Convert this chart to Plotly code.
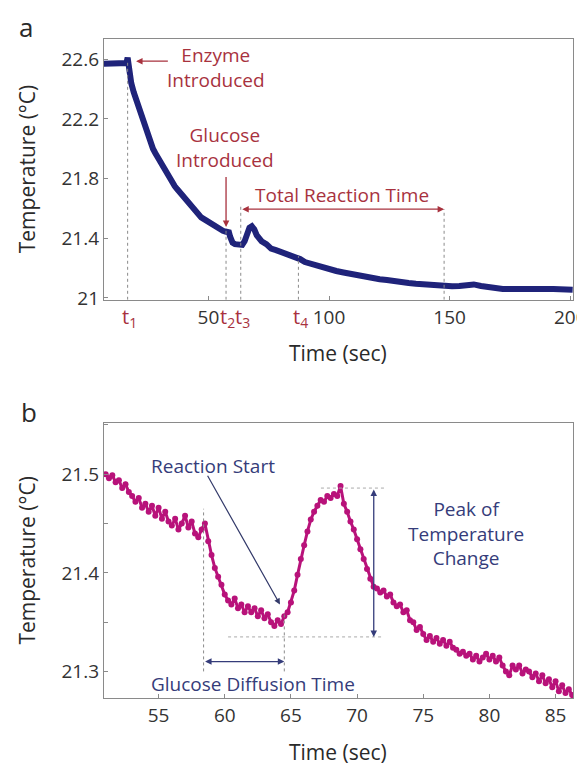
import plotly.graph_objects as go

# ---------------- Panel a data ----------------
time_a = [6.6, 8, 10, 12, 14, 16, 16.5, 17, 17.5, 18, 19, 20, 21, 22, 23, 24, 25, 26, 27, 28, 29, 30,
          31, 32, 33, 34, 35, 36, 37, 38, 39, 40, 41, 42, 43, 44, 45, 46, 47, 48, 49, 50, 51, 52, 53,
          54, 55, 56, 57, 58, 58.5, 59, 60, 61, 62, 63, 64, 65, 66, 67, 68, 69, 70, 71, 72, 74, 76,
          78, 80, 82, 84, 86, 88, 90, 92, 95, 98, 100, 103, 106, 109, 112, 115, 118, 121, 124, 127,
          130, 133, 136, 139, 142, 145, 148, 151, 154, 157, 160, 163, 166, 169, 172, 175, 178, 181,
          184, 187, 190, 193, 196, 199, 201]
temp_a = [22.57, 22.57, 22.575, 22.57, 22.575, 22.575, 22.61, 22.52, 22.46, 22.44, 22.38, 22.33,
          22.27, 22.22, 22.17, 22.12, 22.08, 22.04, 22.0, 21.97, 21.94, 21.91, 21.88, 21.85, 21.83,
          21.80, 21.77, 21.75, 21.73, 21.71, 21.69, 21.67, 21.65, 21.63, 21.61, 21.59, 21.57, 21.56,
          21.54, 21.53, 21.52, 21.50, 21.49, 21.48, 21.47, 21.465, 21.46, 21.45, 21.445, 21.44,
          21.44, 21.41, 21.37, 21.36, 21.355, 21.35, 21.355, 21.38, 21.43, 21.47, 21.48, 21.46,
          21.42, 21.39, 21.38, 21.36, 21.33, 21.32, 21.31, 21.30, 21.29, 21.28, 21.26, 21.24, 21.23,
          21.21, 21.20, 21.19, 21.18, 21.17, 21.16, 21.145, 21.14, 21.13, 21.125, 21.12, 21.11,
          21.105, 21.10, 21.095, 21.09, 21.085, 21.08, 21.08, 21.078, 21.08, 21.085, 21.09, 21.08,
          21.07, 21.065, 21.06, 21.06, 21.065, 21.06, 21.06, 21.065, 21.06, 21.06, 21.055, 21.06,
          21.055]

x_ticks_a = [50, 100, 150, 200]
y_ticks_a = [21.0, 21.4, 21.8, 22.2, 22.6]
y_ticklabels_a = ["21", "21.4", "21.8", "22.2", "22.6"]
t_markers = [16.5, 57.3, 63.4, 87.3]
t_labels = ["t<sub>1</sub>", "t<sub>2</sub>", "t<sub>3</sub>", "t<sub>4</sub>"]
t_line_tops = [22.58, 21.456, 21.62, 21.28]
reaction_end = 147.7

# ---------------- Panel b data ----------------
time_b = [51 + 0.25 * i for i in range(142)]
temp_b = [21.500, 21.496, 21.499, 21.492,
          21.494, 21.486, 21.490, 21.482,
          21.478, 21.472, 21.476, 21.466,
          21.470, 21.462, 21.468, 21.458,
          21.466, 21.455, 21.462, 21.452,
          21.448, 21.455, 21.444, 21.450,
          21.458, 21.446, 21.452, 21.440,
          21.436, 21.444, 21.450, 21.432,
          21.418, 21.405, 21.396, 21.388,
          21.378, 21.372, 21.368, 21.374,
          21.364, 21.368, 21.360, 21.366,
          21.360, 21.364, 21.356, 21.362,
          21.354, 21.358, 21.350, 21.346,
          21.352, 21.348, 21.356, 21.360,
          21.370, 21.382, 21.398, 21.414,
          21.428, 21.442, 21.454, 21.462,
          21.468, 21.474, 21.472, 21.478,
          21.476, 21.480, 21.478, 21.488,
          21.470, 21.462, 21.452, 21.444,
          21.434, 21.424, 21.414, 21.404,
          21.394, 21.386, 21.384, 21.380,
          21.382, 21.376, 21.378, 21.370,
          21.366, 21.368, 21.360, 21.362,
          21.352, 21.350, 21.342, 21.345,
          21.338, 21.332, 21.336, 21.330,
          21.334, 21.328, 21.332, 21.326,
          21.330, 21.324, 21.322, 21.318,
          21.320, 21.316, 21.318, 21.312,
          21.316, 21.310, 21.314, 21.318,
          21.312, 21.316, 21.310, 21.314,
          21.306, 21.300, 21.296, 21.306,
          21.302, 21.306, 21.298, 21.302,
          21.300, 21.294, 21.298, 21.290,
          21.296, 21.288, 21.292, 21.284,
          21.290, 21.280, 21.286, 21.278,
          21.282, 21.276]

x_ticks_b = [55, 60, 65, 70, 75, 80, 85]
y_ticks_b = [21.3, 21.4, 21.5]
glucose_t = 58.4
reaction_t = 64.5
peak_t = 71.26
peak_val = 21.486
base_val = 21.335

FONT = "Open Sans"
NAVY = "#1f237a"
MAGENTA = "#b8127a"
RED = "#a8323e"
BLUE = "#353c7a"
GRAY = "#8a8a8a"
TXT = "#2a2a2a"

fig = go.Figure()
fig.add_trace(go.Scatter(x=time_a, y=temp_a, mode="lines", line=dict(color=NAVY, width=6),
                         xaxis="x", yaxis="y", showlegend=False))
fig.add_trace(go.Scatter(x=time_b, y=temp_b, mode="lines+markers", line=dict(color=MAGENTA, width=3),
                         marker=dict(color=MAGENTA, size=6), xaxis="x2", yaxis="y2", showlegend=False))

axis_common = dict(showline=True, linecolor=GRAY, linewidth=1, mirror=True, ticks="inside",
                   ticklen=4, tickcolor=GRAY, showgrid=False, zeroline=False,
                   ticklabeloverflow="allow",
                   tickfont=dict(family=FONT, size=19, color="#333333"))

W, H = 585, 773
def px(xp):
    return xp / W
def py(yp):
    return 1 - yp / H

fig.update_layout(
    width=W, height=H, margin=dict(l=0, r=0, t=0, b=0),
    plot_bgcolor="white", paper_bgcolor="white",
    xaxis=dict(domain=[px(98), px(578)], range=[6.63, 201.2], anchor="y",
               tickvals=x_ticks_a, ticktext=["50", "100", "150", "200"], **axis_common),
    yaxis=dict(domain=[py(296), py(31)], range=[20.987, 22.739], anchor="x",
               tickvals=y_ticks_a, ticktext=y_ticklabels_a, **axis_common),
    xaxis2=dict(domain=[px(98), px(578)], range=[50.86, 86.33], anchor="y2",
                tickvals=x_ticks_b, **axis_common),
    yaxis2=dict(domain=[py(700), py(421)], range=[21.273, 21.552], anchor="x2",
                tickvals=y_ticks_b, minor=dict(dtick=0.05, ticks="inside", ticklen=4, tickcolor=GRAY),
                **axis_common),
)

shapes = []
ann = []

def text_ann(x, y, text, color, size=19, xref="x", yref="y", **kw):
    d = dict(x=x, y=y, xref=xref, yref=yref, text=text, showarrow=False,
             xanchor="center", yanchor="middle", align="center",
             font=dict(family=FONT, size=size, color=color))
    d.update(kw)
    return d

def arrow_ann(x, y, ax, ay, color, xref="x", yref="y", both=False, width=1.3):
    d = dict(x=x, y=y, ax=ax, ay=ay, xref=xref, yref=yref, axref=xref, ayref=yref, text="",
             showarrow=True, arrowhead=2, arrowsize=1, arrowwidth=width, arrowcolor=color)
    if both:
        d.update(startarrowhead=2, arrowside="end+start", startarrowsize=1)
    return d

# ---- panel a dotted lines ----
for t, top in zip(t_markers, t_line_tops):
    shapes.append(dict(type="line", xref="x", yref="y", x0=t, x1=t, y0=20.987, y1=top,
                       line=dict(color=GRAY, width=1, dash="dot")))
shapes.append(dict(type="line", xref="x", yref="y", x0=reaction_end, x1=reaction_end, y0=20.987,
                   y1=21.595, line=dict(color=GRAY, width=1, dash="dot")))

# t labels
for t, lab in zip(t_markers, t_labels):
    ann.append(text_ann(t + 0.8, py(314), lab, RED, size=20, yref="paper"))

ann.append(text_ann(53.2, 22.547, "Enzyme<br>Introduced", RED))
ann.append(arrow_ann(20.0, 22.587, 33.8, 22.587, RED))
ann.append(text_ann(56.9, 22.008, "Glucose<br>Introduced", RED))
ann.append(arrow_ann(57.3, 21.476, 57.3, 21.82, RED))
ann.append(text_ann(105.5, 21.688, "Total Reaction Time", RED))
ann.append(arrow_ann(reaction_end, 21.595, t_markers[2], 21.595, RED, both=True))

# ---- panel b ----
shapes.append(dict(type="line", xref="x2", yref="y2", x0=glucose_t, x1=glucose_t, y0=21.30, y1=21.465,
                   line=dict(color=GRAY, width=1, dash="dot")))
shapes.append(dict(type="line", xref="x2", yref="y2", x0=reaction_t, x1=reaction_t, y0=21.30, y1=21.358,
                   line=dict(color=GRAY, width=1, dash="dot")))
shapes.append(dict(type="line", xref="x2", yref="y2", x0=60.25, x1=71.92, y0=base_val, y1=base_val,
                   line=dict(color="#aaaaaa", width=1, dash="dot")))
shapes.append(dict(type="line", xref="x2", yref="y2", x0=67.27, x1=72.07, y0=peak_val, y1=peak_val,
                   line=dict(color="#aaaaaa", width=1, dash="dot")))

ann.append(arrow_ann(reaction_t, 21.31, glucose_t, 21.31, BLUE, xref="x2", yref="y2", both=True))
ann.append(text_ann(62.17, 21.287, "Glucose Diffusion Time", BLUE, xref="x2", yref="y2"))
ann.append(arrow_ann(peak_t, base_val, peak_t, peak_val, BLUE, xref="x2", yref="y2", both=True))
ann.append(text_ann(78.2, 21.44, "Peak of<br>Temperature<br>Change", BLUE, xref="x2", yref="y2"))
ann.append(text_ann(59.14, 21.508, "Reaction Start", BLUE, xref="x2", yref="y2"))
ann.append(arrow_ann(64.17, 21.368, 58.64, 21.50, "#333a6a", xref="x2", yref="y2", width=1.2))

# titles and panel letters
for yc in (py(350), py(755)):
    ann.append(text_ann(px(337), yc, "Time (sec)", TXT, size=21, xref="paper", yref="paper"))
for yc in (py(163), py(560)):
    ann.append(text_ann(px(19), yc, "Temperature (°C)", TXT, size=21, xref="paper", yref="paper",
                        textangle=-90))
ann.append(text_ann(px(18), py(19), "a", TXT, size=26, xref="paper", yref="paper"))
ann.append(text_ann(px(21), py(410), "b", TXT, size=26, xref="paper", yref="paper"))

fig.update_layout(shapes=shapes, annotations=ann)
fig.write_html("out.html")
